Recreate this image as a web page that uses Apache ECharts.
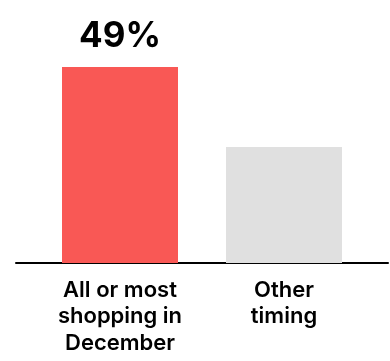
<!DOCTYPE html>
<html>
<head>
<meta charset="utf-8">
<script src="https://cdn.jsdelivr.net/npm/echarts@6/dist/echarts.min.js"></script>
<style>html,body{margin:0;padding:0;background:#fff;}#c{width:390px;height:361px;}</style>
</head>
<body>
<div id="c"></div>
<script>
const categories = ['All or most\nshopping in\nDecember', 'Other\ntiming'];
const values = [49, 29];
const barColors = ['#F95855', '#E0E0E0'];
const valueLabels = ['49%', ''];

const chart = echarts.init(document.getElementById('c'), null, {renderer: 'canvas'});
chart.setOption({
  animation: false,
  backgroundColor: '#ffffff',
  grid: [
    {left: 38, right: 24, top: 63, bottom: 98},
    {left: 16, right: 2, top: 63, bottom: 98}
  ],
  xAxis: [
    {
      type: 'category', gridIndex: 0, data: categories,
      axisLine: {show: false}, axisTick: {show: false},
      axisLabel: {
        margin: 14, color: '#000', fontFamily: 'Inter', fontWeight: 600,
        fontSize: 22, lineHeight: 26.5, interval: 0
      }
    },
    {
      type: 'category', gridIndex: 1, data: [],
      axisLine: {show: true, lineStyle: {color: '#000', width: 2}},
      axisTick: {show: false}, axisLabel: {show: false}
    }
  ],
  yAxis: [
    {type: 'value', gridIndex: 0, min: 0, max: 50, show: false},
    {type: 'value', gridIndex: 1, min: 0, max: 50, show: false}
  ],
  series: [{
    type: 'bar', xAxisIndex: 0, yAxisIndex: 0,
    barWidth: 116,
    data: values.map((v, i) => ({
      value: v,
      itemStyle: {color: barColors[i]},
      label: {
        show: !!valueLabels[i], position: 'top', distance: 13,
        formatter: valueLabels[i], color: '#000',
        fontFamily: 'Inter', fontWeight: 700, fontSize: 35
      }
    }))
  }]
});
</script>
</body>
</html>
